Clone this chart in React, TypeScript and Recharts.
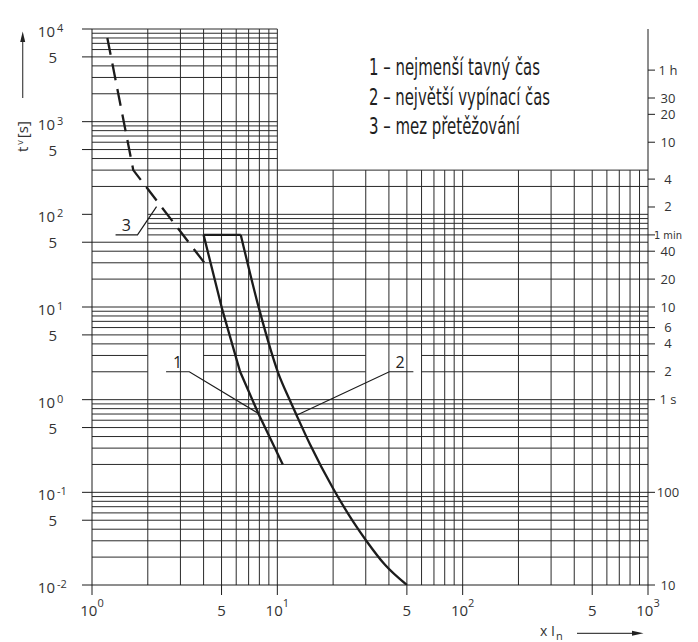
import React from "react";
import { ComposedChart, Line, XAxis, YAxis, ReferenceLine, ReferenceDot } from "recharts";

const W = 698;
const H = 642;

/* ---------- axes ---------- */
const X_TICKS = [1, 5, 10, 50, 100, 500, 1000];
const Y_TICKS = [0.01, 0.05, 0.1, 0.5, 1, 5, 10, 50, 100, 500, 1000, 5000, 10000];
const TIME_TICKS = [3600, 1800, 1200, 600, 240, 120, 60, 40, 20, 10, 6, 4, 2, 1, 0.1, 0.01];
const TIME_LABELS = ["1 h", "30", "20", "10", "4", "2", "1 min", "40", "20", "10", "6", "4", "2", "1 s", "100", "10"];

/* ---------- log grid ---------- */
const MINOR = [1, 2, 3, 4, 5, 6, 7, 8, 9];
const X_DECADES = [1, 10, 100];
const Y_DECADES = [0.01, 0.1, 1, 10, 100, 1000];
// the upper right corner (x > 10, t > 300 s) holds the legend, no grid there
const BLANK_X = 10;
const BLANK_Y = 300;
// grid left open around the curve labels
const GRID_GAPS = [
  { ys: [60, 70, 80, 90, 100], from: 1, to: 2 },
  { ys: [2, 3], from: 2, to: 4 },
  { ys: [2, 3], from: 30, to: 60 },
];

/* ---------- curves ---------- */
const minMelting = [
  { x: 4, y: 60 }, { x: 5.05, y: 9.3 }, { x: 6.3, y: 2.0 }, { x: 7.9, y: 0.71 }, { x: 10.7, y: 0.2 },
];
const topCap = [{ x: 4, y: 60 }, { x: 6.35, y: 60 }];
const maxBreaking = [
  { x: 6.35, y: 60 }, { x: 8.0, y: 9.3 }, { x: 10.1, y: 1.95 }, { x: 11.7, y: 0.98 },
  { x: 12.7, y: 0.68 }, { x: 15, y: 0.33 }, { x: 20, y: 0.11 }, { x: 25.7, y: 0.048 },
  { x: 30.4, y: 0.0295 }, { x: 38.1, y: 0.0165 }, { x: 50, y: 0.01 },
];
const overload = [{ x: 1.21, y: 8000 }, { x: 1.67, y: 300 }, { x: 4.04, y: 30 }];

/* ---------- label leaders ---------- */
const leader1 = [{ x: 2.51, y: 2 }, { x: 3.35, y: 2 }, { x: 7.9, y: 0.71 }];
const leader2 = [{ x: 54.2, y: 2 }, { x: 40.2, y: 2 }, { x: 12.7, y: 0.68 }];
const leader3 = [{ x: 1.34, y: 60 }, { x: 1.76, y: 60 }, { x: 2.23, y: 121 }];
const CURVE_LABELS = [
  { x: 2.9, y: 2.57, text: "1" },
  { x: 45.9, y: 2.57, text: "2" },
  { x: 1.53, y: 77, text: "3" },
];
const LEGEND = ["1 – nejmenší tavný čas", "2 – největší vypínací čas", "3 – mez přetěžování"];

const INK = "#1c1c1c";
const GRID = "#2a2a2a";
const FONT = "'Open Sans', 'Noto Sans', sans-serif";
const NARROW = "'Liberation Sans Narrow', 'DejaVu Sans Condensed', Roboto, sans-serif";

const eq = (a: number, b: number) => Math.abs(a - b) < 1e-9 * Math.max(1, Math.abs(b));

function hSegments(h: number): [number, number][] {
  const right = h > BLANK_Y + 1e-9 ? BLANK_X : 1000;
  let segs: [number, number][] = [[1, right]];
  GRID_GAPS.filter((g) => g.ys.some((v) => eq(v, h))).forEach((g) => {
    segs = segs.flatMap(([a, b]) => {
      if (g.to <= a || g.from >= b) return [[a, b] as [number, number]];
      const out: [number, number][] = [];
      if (g.from > a) out.push([a, g.from]);
      if (g.to < b) out.push([g.to, b]);
      return out;
    });
  });
  return segs;
}

const vLines = X_DECADES.flatMap((d) => MINOR.map((m) => m * d)).filter((v) => v > 1 + 1e-9);
const hLines = [...Y_DECADES.flatMap((d) => MINOR.map((m) => m * d)).filter((h) => h > 0.01 + 1e-9), 10000];

function LeftTick(props: any) {
  const { x, y, payload } = props;
  const v = payload.value as number;
  const e = Math.round(Math.log10(v));
  if (eq(v, Math.pow(10, e))) {
    return (
      <g fontFamily={FONT} fill="#333">
        <text x={x - 25} y={y + 8} textAnchor="end" fontSize={15}>10</text>
        <text x={x - 23} y={y + 3} fontSize={11}>{e}</text>
      </g>
    );
  }
  return (
    <text x={x - 23} y={y + 6} textAnchor="end" fontSize={15} fontFamily={FONT} fill="#333">5</text>
  );
}

function BottomTick(props: any) {
  const { x, y, payload } = props;
  const v = payload.value as number;
  const e = Math.round(Math.log10(v));
  if (eq(v, Math.pow(10, e))) {
    return (
      <text x={x} y={y + 19} textAnchor="middle" fontSize={15} fontFamily={FONT} fill="#333">
        <tspan>10</tspan>
        <tspan fontSize={11} dy={-9}>{e}</tspan>
      </text>
    );
  }
  return (
    <text x={x} y={y + 19} textAnchor="middle" fontSize={15} fontFamily={FONT} fill="#333">5</text>
  );
}

function TimeTick(props: any) {
  const { x, y, payload } = props;
  const i = TIME_TICKS.findIndex((t) => eq(t, payload.value));
  const label = TIME_LABELS[i] ?? "";
  const small = label === "1 min";
  return (
    <text
      x={x + 11}
      y={y + 4.5}
      textAnchor="middle"
      fontSize={small ? 11 : 13}
      fontFamily={small ? NARROW : FONT}
      fill="#333"
    >
      {label}
    </text>
  );
}

function NumberLabel(props: any) {
  return (
    <text
      x={props.cx}
      y={props.cy}
      textAnchor="middle"
      dominantBaseline="central"
      fontSize={16}
      fontFamily={FONT}
      fill="#222"
    >
      {props.text}
    </text>
  );
}

export default function App() {
  return (
    <div style={{ position: "absolute", left: 0, top: 0, width: W, height: H, background: "#fff" }}>
      <ComposedChart width={W} height={H} margin={{ top: 29, right: 0, bottom: 0, left: 0 }}>
        <XAxis
          dataKey="x"
          type="number"
          scale="log"
          domain={[1, 1000]}
          allowDataOverflow
          ticks={X_TICKS}
          interval={0}
          height={57}
          tickSize={10}
          stroke={INK}
          tick={<BottomTick />}
        />
        <YAxis
          type="number"
          scale="log"
          domain={[0.01, 10000]}
          allowDataOverflow
          ticks={Y_TICKS}
          interval={0}
          width={92}
          tickSize={10}
          stroke={INK}
          tick={<LeftTick />}
        />
        <YAxis
          yAxisId="t"
          orientation="right"
          type="number"
          scale="log"
          domain={[0.01, 10000]}
          allowDataOverflow
          ticks={TIME_TICKS}
          interval={0}
          width={50}
          tickSize={7}
          stroke={INK}
          tick={<TimeTick />}
        />

        {vLines.map((v) => (
          <ReferenceLine
            key={`v${v}`}
            segment={[{ x: v, y: 0.01 }, { x: v, y: v <= BLANK_X + 1e-9 ? 10000 : BLANK_Y }]}
            stroke={GRID}
            strokeWidth={1}
            ifOverflow="visible"
          />
        ))}
        {hLines.flatMap((h) =>
          hSegments(h).map(([a, b]) => (
            <ReferenceLine
              key={`h${h}-${a}`}
              segment={[{ x: a, y: h }, { x: b, y: h }]}
              stroke={GRID}
              strokeWidth={1}
              ifOverflow="visible"
            />
          ))
        )}

        <Line data={overload} dataKey="y" type="linear" stroke={INK} strokeWidth={2.3}
          strokeDasharray="17 9" dot={false} isAnimationActive={false} />
        <Line data={topCap} dataKey="y" type="linear" stroke={INK} strokeWidth={2.3}
          dot={false} isAnimationActive={false} />
        <Line data={minMelting} dataKey="y" type="linear" stroke={INK} strokeWidth={2.3}
          dot={false} isAnimationActive={false} />
        <Line data={maxBreaking} dataKey="y" type="monotone" stroke={INK} strokeWidth={2.3}
          dot={false} isAnimationActive={false} />

        {[leader1, leader2, leader3].map((l, i) => (
          <Line key={`l${i}`} data={l} dataKey="y" type="linear" stroke={INK} strokeWidth={1.2}
            dot={false} isAnimationActive={false} />
        ))}
        {CURVE_LABELS.map((c) => (
          <ReferenceDot key={c.text} x={c.x} y={c.y} r={0} ifOverflow="visible"
            shape={(p: any) => <NumberLabel {...p} text={c.text} />} />
        ))}
      </ComposedChart>

      <svg width={W} height={H} style={{ position: "absolute", left: 0, top: 0, pointerEvents: "none" }}>
        <g fontFamily={NARROW} fontSize={23} fill="#1e1e1e">
          <text x={369} y={75} textLength={171} lengthAdjust="spacingAndGlyphs">{LEGEND[0]}</text>
          <text x={369} y={105} textLength={181} lengthAdjust="spacingAndGlyphs">{LEGEND[1]}</text>
          <text x={369} y={134} textLength={151} lengthAdjust="spacingAndGlyphs">{LEGEND[2]}</text>
        </g>

        {/* y title + arrow */}
        <line x1={22.7} y1={98} x2={22.7} y2={40} stroke="#444" strokeWidth={1.2} />
        <polygon points="22.7,31.5 20.2,42 25.2,42" fill="#222" />
        <text transform="translate(28,152) rotate(-90)" fontFamily={FONT} fontSize={15} fill="#333">
          <tspan>t</tspan>
          <tspan fontSize={9} dy={-5} dx={2}>v</tspan>
          <tspan dy={5} dx={2}>[s]</tspan>
        </text>

        {/* x title + arrow */}
        <text x={540} y={636} fontFamily={FONT} fontSize={14} fill="#333">
          <tspan>x I</tspan>
          <tspan fontSize={11} dy={4} dx={1}>n</tspan>
        </text>
        <line x1={577} y1={633.3} x2={634} y2={633.3} stroke="#444" strokeWidth={1.2} />
        <polygon points="643.5,633.3 632,630.8 632,635.8" fill="#222" />
      </svg>
    </div>
  );
}
